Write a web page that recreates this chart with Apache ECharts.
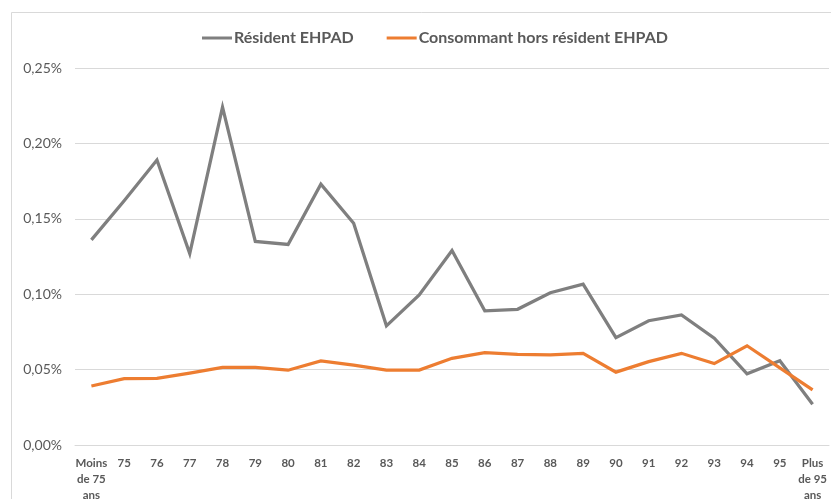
<!DOCTYPE html>
<html>
<head>
<meta charset="utf-8">
<script src="https://cdn.jsdelivr.net/npm/echarts@6/dist/echarts.min.js"></script>
<style>
  html, body { margin: 0; padding: 0; background: #fff; }
  #chart { width: 831px; height: 499px; }
</style>
</head>
<body>
<div id="chart"></div>
<script>
// Age groups
const categories = ['Moins\nde 75\nans', '75', '76', '77', '78', '79', '80', '81', '82', '83', '84',
  '85', '86', '87', '88', '89', '90', '91', '92', '93', '94', '95', 'Plus\nde 95\nans'];

// Shares, in percent
const residentEhpad = [0.136, 0.162, 0.189, 0.127, 0.224, 0.135, 0.133, 0.173, 0.147, 0.079, 0.0995,
  0.129, 0.089, 0.090, 0.101, 0.1066, 0.0712, 0.0824, 0.0862, 0.0708, 0.0472, 0.0559, 0.027];
const horsResident = [0.0391, 0.044, 0.0442, 0.0476, 0.0514, 0.0514, 0.0496, 0.0558, 0.053, 0.0497, 0.0497,
  0.0575, 0.0612, 0.0601, 0.0597, 0.0608, 0.0483, 0.0553, 0.0608, 0.054, 0.0658, 0.0512, 0.0366];

// Y axis ticks
const yMin = 0, yMax = 0.25, yStep = 0.05;

const FONT = 'Lato, "Open Sans", sans-serif';
const chart = echarts.init(document.getElementById('chart'), null, { renderer: 'canvas' });

chart.setOption({
  animation: false,
  backgroundColor: '#ffffff',
  graphic: [{
    type: 'rect',
    shape: { x: 11.5, y: 12.5, width: 840, height: 500 },
    style: { fill: 'none', stroke: '#d9d9d9', lineWidth: 1 },
    silent: true,
    z: -1
  }],
  legend: {
    top: 25,
    left: 197,
    itemWidth: 30,
    itemHeight: 3,
    itemGap: 33,
    icon: 'rect',
    textStyle: { fontFamily: FONT, fontSize: 16, fontWeight: 'bold', color: '#595959', padding: [0, 0, 0, -3] },
    data: ['Résident EHPAD', 'Consommant hors résident EHPAD']
  },
  grid: { left: 75, right: 2, top: 68, bottom: 54, containLabel: false, outerBoundsMode: 'none' },
  xAxis: {
    type: 'category',
    data: categories,
    boundaryGap: true,
    axisLine: { show: true, lineStyle: { color: '#d9d9d9', width: 1 } },
    axisTick: { show: false },
    axisLabel: {
      interval: 0,
      margin: 10,
      fontFamily: FONT,
      fontSize: 11.5,
      fontWeight: 'bold',
      color: '#595959',
      lineHeight: 16
    },
    splitLine: { show: false }
  },
  yAxis: {
    type: 'value',
    min: yMin,
    max: yMax,
    interval: yStep,
    axisLine: { show: false },
    axisTick: { show: false },
    axisLabel: {
      margin: 13,
      fontFamily: FONT,
      fontSize: 14,
      color: '#595959',
      formatter: v => v.toFixed(2).replace('.', ',') + '%'
    },
    splitLine: { lineStyle: { color: '#d9d9d9', width: 1 } }
  },
  series: [
    {
      name: 'Résident EHPAD',
      type: 'line',
      data: residentEhpad,
      symbol: 'none',
      color: '#7f7f7f',
      lineStyle: { color: '#7f7f7f', width: 3.25, join: 'miter' }
    },
    {
      name: 'Consommant hors résident EHPAD',
      type: 'line',
      data: horsResident,
      symbol: 'none',
      color: '#ed7d31',
      lineStyle: { color: '#ed7d31', width: 3.25, join: 'miter' }
    }
  ]
});
</script>
</body>
</html>
